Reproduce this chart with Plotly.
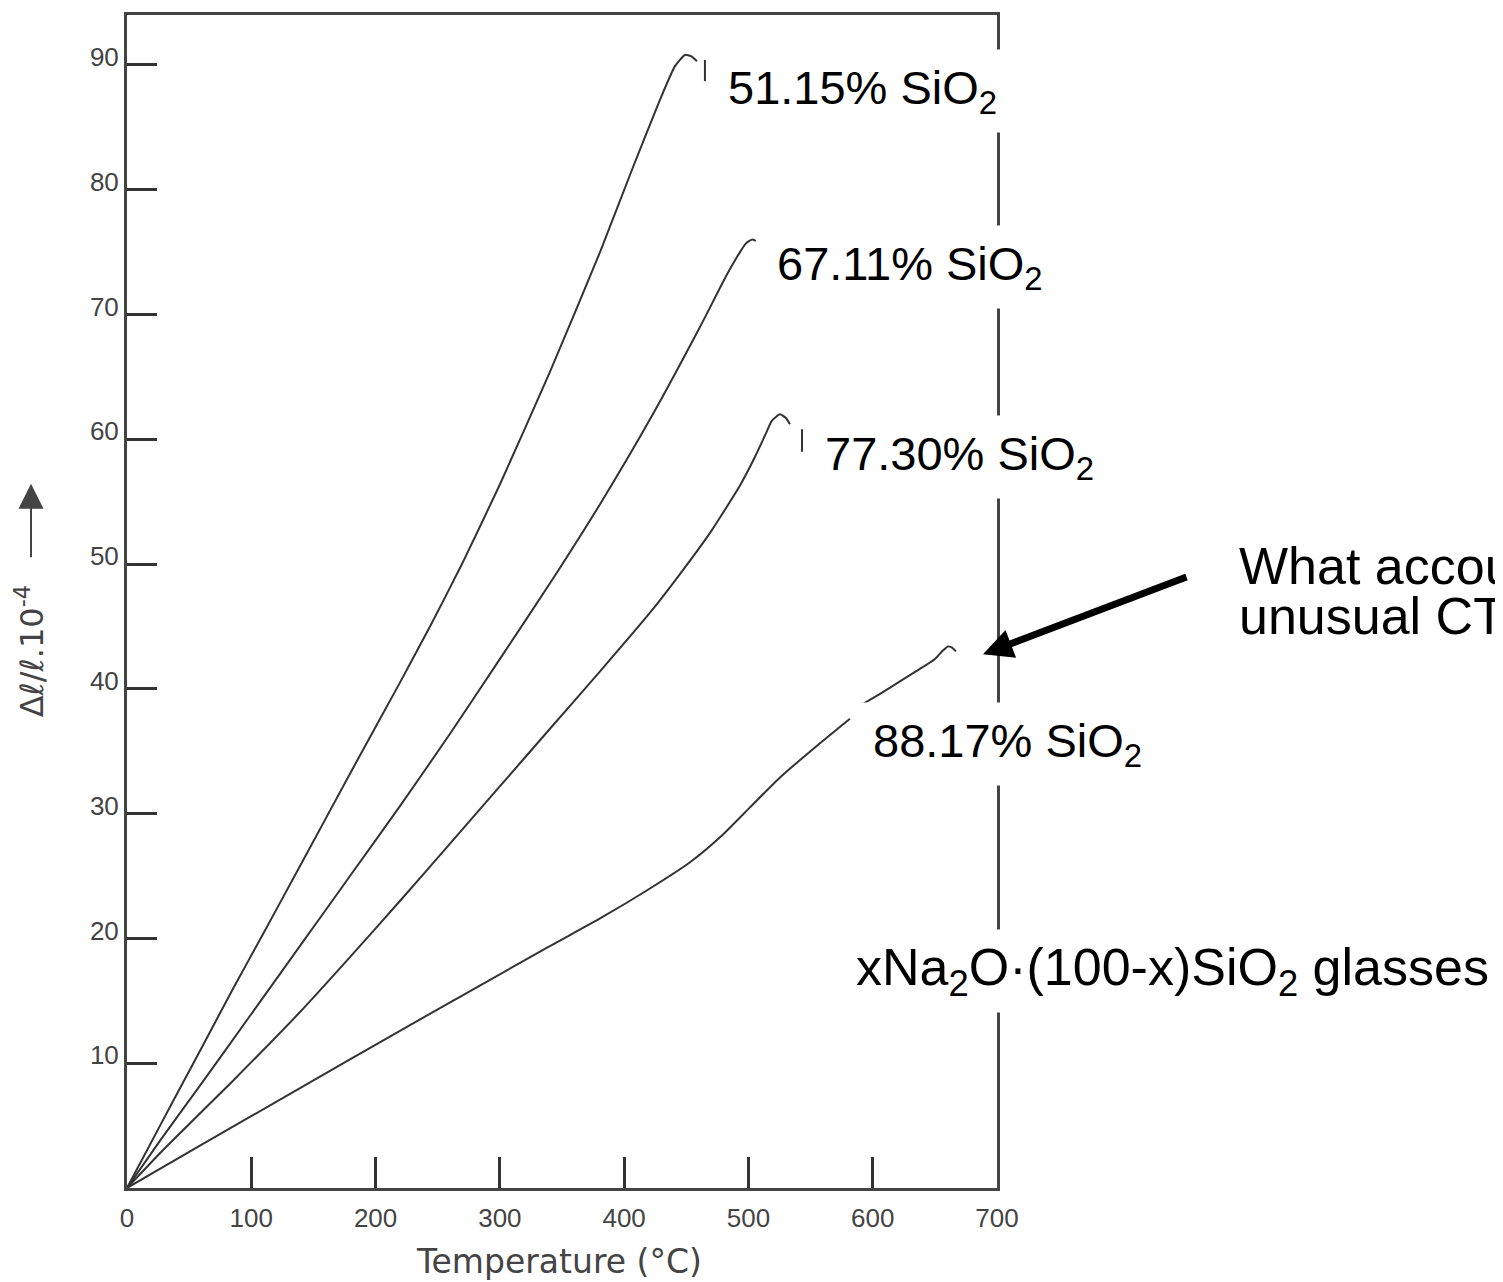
import plotly.graph_objects as go

# ---- data (temperature in °C, dL/L in 1e-4) ----
temp_51 = [0, 26.6, 48.0, 66.8, 85.5, 109.7, 139.2, 179.4, 219.6, 243.8, 269.5, 300.1, 340.3,
           380.6, 407.1, 428.8, 440.9, 448.9, 453.8, 458.6, None, 465.0, 465.0]
dl_51 = [0, 5.0, 9.0, 12.5, 16.0, 20.4, 25.8, 33.2, 40.5, 45.0, 50.0, 56.4, 65.4,
         75.0, 81.8, 87.2, 89.9, 90.8, 90.7, 90.3, None, 90.4, 88.7]

temp_67 = [0, 26.6, 58.7, 99.0, 139.2, 179.4, 219.6, 259.9, 300.1, 341.9, 380.6, 420.8,
           461.0, 482.7, 493.2, 498.0, 502.8, 506.0]
dl_67 = [0, 3.8, 8.2, 13.8, 19.4, 25.0, 30.6, 36.4, 42.4, 48.7, 54.8, 61.6,
         69.0, 73.2, 75.0, 75.7, 76.0, 75.9]

temp_77 = [0, 30.6, 85.3, 139.2, 179.4, 219.6, 259.9, 300.1, 340.3, 380.6, 420.8, 444.9,
           469.1, 493.2, 505.3, 513.3, 518.9, 525.4, 530.2, 533.4, None, 543.1, 543.1]
dl_77 = [0, 3.2, 8.6, 14.1, 18.5, 23.0, 27.6, 32.2, 36.8, 41.4, 46.1, 49.2,
         52.5, 56.3, 58.6, 60.3, 61.5, 62.0, 61.7, 61.2, None, 60.8, 59.0]

temp_88 = [0, 58.7, 139.2, 219.6, 338.7, 380.6, 420.8, 453.0, 477.1, 501.2, 525.4, 553.5,
           581.7, None, 592.2, 605.9, 621.9, 638.0, 650.1, 655.7, 660.5, 663.8, 667.0]
dl_88 = [0, 3.4, 8.0, 12.6, 19.3, 21.6, 24.0, 26.1, 28.1, 30.5, 32.9, 35.3,
         37.6, None, 38.8, 39.6, 40.6, 41.6, 42.4, 43.0, 43.4, 43.3, 43.0]

series_labels = ["51.15% SiO<sub>2</sub>", "67.11% SiO<sub>2</sub>",
                 "77.30% SiO<sub>2</sub>", "88.17% SiO<sub>2</sub>"]
x_ticks = [0, 100, 200, 300, 400, 500, 600, 700]
y_ticks = [10, 20, 30, 40, 50, 60, 70, 80, 90]

# ---- layout geometry (screen pixels; the page body adds an 8px offset) ----
OFF = 8
SW, SH = 1503, 1282
W, H = SW - OFF, SH - OFF
L, R, T, B = 127, 997, 12, 1188


def fx(px):
    return (px - L) / (R - L)


def fy(py):
    return (B - py) / (B - T)


fig = go.Figure()
curve_color = "#333333"
for xs, ys in [(temp_51, dl_51), (temp_67, dl_67), (temp_77, dl_77), (temp_88, dl_88)]:
    fig.add_trace(go.Scatter(x=xs, y=ys, mode="lines", connectgaps=False,
                             line=dict(color=curve_color, width=2, shape="spline",
                                       smoothing=0.5),
                             showlegend=False, hoverinfo="skip"))

tick_font = dict(family="Liberation Sans, Arial, sans-serif", size=26, color="#444444")
axis_common = dict(showline=True, linewidth=3, linecolor="#444444", mirror=True,
                   showgrid=False, zeroline=False, ticks="inside", tickwidth=2.5,
                   tickcolor="#333333", tickfont=tick_font)

fig.update_layout(
    width=W, height=H,
    margin=dict(l=L - OFF, r=SW - R, t=T - OFF, b=SH - B, pad=0),
    paper_bgcolor="white", plot_bgcolor="white",
    xaxis=dict(range=[0, 700], tickvals=x_ticks, ticklen=31, ticklabelstandoff=5,
               **axis_common),
    yaxis=dict(range=[0, 94], tickvals=y_ticks, ticklen=30, ticklabelstandoff=0,
               ticklabelshift=-8, **axis_common),
)

label_font = dict(family="Liberation Sans, Arial, sans-serif", size=47, color="black")
big_font = dict(family="Liberation Sans, Arial, sans-serif", size=52, color="black")
label_pos = [(728, 88), (777, 265), (825, 455), (873, 743)]
for text, (px, py) in zip(series_labels, label_pos):
    fig.add_annotation(text=text, xref="paper", yref="paper", x=fx(px - 12), y=fy(py),
                       xanchor="left", yanchor="middle", showarrow=False,
                       bgcolor="white", borderpad=11, font=label_font)

fig.add_annotation(text="xNa<sub>2</sub>O·(100-x)SiO<sub>2</sub> glasses",
                   xref="paper", yref="paper", x=fx(857 - 10), y=fy(970),
                   xanchor="left", yanchor="middle", showarrow=False,
                   bgcolor="white", borderpad=8, font=big_font)

fig.add_annotation(text="What accounts for the", xref="paper", yref="paper",
                   x=fx(1237), y=fy(564), xanchor="left", yanchor="middle",
                   showarrow=False, font=big_font)
fig.add_annotation(text="unusual CTE?", xref="paper", yref="paper",
                   x=fx(1237), y=fy(615), xanchor="left", yanchor="middle",
                   showarrow=False, font=big_font)

# pointer arrow
fig.add_annotation(text="", xref="paper", yref="paper", x=fx(983), y=fy(653),
                   ax=1188 - 983, ay=575 - 653, axref="pixel", ayref="pixel",
                   showarrow=True, arrowhead=2, arrowwidth=7, arrowsize=0.85,
                   arrowcolor="black")

# axis titles
fig.add_annotation(text="Temperature (°C)", xref="paper", yref="paper",
                   x=fx(559), y=fy(1262), xanchor="center", yanchor="middle",
                   showarrow=False,
                   font=dict(family="DejaVu Sans, sans-serif", size=33, color="#444444"))
fig.add_annotation(text="Δℓ/ℓ.10<sup>-4</sup>", xref="paper", yref="paper",
                   x=fx(30), y=fy(650), xanchor="center", yanchor="middle",
                   textangle=-90, showarrow=False,
                   font=dict(family="DejaVu Sans, sans-serif", size=32, color="#444444"))
fig.add_annotation(text="", xref="paper", yref="paper", x=fx(31), y=fy(482),
                   ax=0, ay=75, axref="pixel", ayref="pixel", showarrow=True,
                   arrowhead=2, arrowwidth=2, arrowsize=2.5, arrowcolor="#444444")

fig.write_html("out.html")
